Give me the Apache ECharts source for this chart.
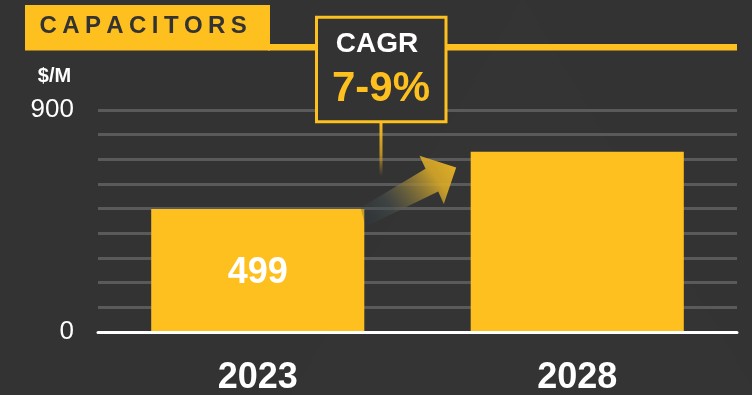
<!DOCTYPE html>
<html>
<head>
<meta charset="utf-8">
<script src="https://cdn.jsdelivr.net/npm/echarts@6/dist/echarts.min.js"></script>
<style>
  html, body { margin: 0; padding: 0; background: #333333; }
  #chart { width: 752px; height: 395px; }
</style>
</head>
<body>
<div id="chart"></div>
<script>
// ---- data ----
const categories = ['2023', '2028'];
const values = [499, 731];
const labelledTicks = [0, 900];
const axisMax = 900;
const axisStep = 100;
const titleText = 'CAPACITORS';
const unitText = '$/M';
const cagrTitle = 'CAGR';
const cagrValue = '7-9%';

// ---- styling ----
const YELLOW = '#FEC01F';
const BG = '#333333';
const GRID = '#5a5a5a';
const FONT = '"Liberation Sans", Arial, Helvetica, sans-serif';

const chart = echarts.init(document.getElementById('chart'), null, { renderer: 'canvas' });

// Letter-spaced heading, laid out one glyph at a time
function spacedText(text, x, y, size, spacing, color) {
  const ctx = document.createElement('canvas').getContext('2d');
  ctx.font = 'bold ' + size + 'px ' + FONT;
  const out = [];
  let cx = x;
  for (const ch of text) {
    out.push({
      type: 'text', z: 20,
      style: {
        x: cx, y: y, text: ch, fill: color,
        fontFamily: FONT, fontWeight: 'bold', fontSize: size,
        align: 'left', verticalAlign: 'middle'
      }
    });
    cx += ctx.measureText(ch).width + spacing;
  }
  return out;
}

const staticGraphics = [
  // faint backdrop triangle
  { type: 'polygon', z: -10, silent: true,
    shape: { points: [[523, -4], [288, 400], [760, 400]] },
    style: { fill: 'rgba(255,255,255,0.009)' } },
  // heading bar and rule
  { type: 'rect', z: 10, shape: { x: 25, y: 5, width: 245, height: 45.5 }, style: { fill: YELLOW } },
  { type: 'rect', z: 10, shape: { x: 268, y: 44, width: 469, height: 6.5 }, style: { fill: YELLOW } },
  // CAGR callout
  { type: 'rect', z: 15, shape: { x: 316.5, y: 17.2, width: 129.5, height: 104.5 },
    style: { fill: BG, stroke: YELLOW, lineWidth: 3 } },
  { type: 'text', z: 16, style: { x: 377, y: 44.5, text: cagrTitle, fill: '#ffffff',
    fontFamily: FONT, fontWeight: 'bold', fontSize: 28, align: 'center', verticalAlign: 'middle' } },
  { type: 'text', z: 16, style: { x: 381, y: 89, text: cagrValue, fill: YELLOW,
    fontFamily: FONT, fontWeight: 'bold', fontSize: 42, align: 'center', verticalAlign: 'middle' } },
  // unit label
  { type: 'text', z: 16, style: { x: 54.5, y: 76, text: unitText, fill: '#ffffff',
    fontFamily: FONT, fontWeight: 'bold', fontSize: 20, align: 'center', verticalAlign: 'middle' } }
].concat(spacedText(titleText, 39.5, 26.5, 24, 5.4, '#333333'));

chart.setOption({
  backgroundColor: BG,
  animation: false,
  grid: { left: 98, right: 15, top: 110, bottom: 63, containLabel: false, outerBoundsMode: 'none' },
  xAxis: {
    type: 'category',
    data: categories,
    axisTick: { show: false },
    axisLine: { show: true, lineStyle: { color: '#ffffff', width: 3 } },
    axisLabel: { color: '#ffffff', fontFamily: FONT, fontWeight: 'bold', fontSize: 36, margin: 28 },
    z: 5
  },
  yAxis: {
    type: 'value',
    min: 0, max: axisMax, interval: axisStep,
    axisLine: { show: false },
    axisTick: { show: false },
    splitLine: { show: true, lineStyle: { color: GRID, width: 3 } },
    axisLabel: {
      color: '#ffffff', fontFamily: FONT, fontSize: 26, margin: 24, padding: [4, 0, 0, 0],
      formatter: v => (labelledTicks.indexOf(v) >= 0 ? String(v) : '')
    }
  },
  series: [{
    type: 'bar',
    data: values.map((v, i) => i === 0
      ? { value: v, label: { show: true } }
      : { value: v }),
    barCategoryGap: '33.3%',
    itemStyle: { color: YELLOW },
    label: {
      show: false, position: 'inside', offset: [0, 3], color: '#ffffff',
      fontFamily: FONT, fontWeight: 'bold', fontSize: 36, formatter: '{c}'
    },
    z: 3
  }],
  graphic: staticGraphics
});

// Growth arrow and callout stem, anchored to the two bar tops
const x0 = chart.convertToPixel({ xAxisIndex: 0 }, categories[0]);
const x1 = chart.convertToPixel({ xAxisIndex: 0 }, categories[1]);
const band = x1 - x0;
const half = band * (1 - 0.333) / 2;
const a = [x0 + half, chart.convertToPixel({ yAxisIndex: 0 }, values[0])]; // right top of first bar
const b = [x1 - half, chart.convertToPixel({ yAxisIndex: 0 }, values[1])]; // left top of second bar
const mid = [(a[0] + b[0]) / 2, (a[1] + b[1]) / 2];

const arrowPts = [
  [-57, 27.5], [8, -11.5], [2, -24.5], [38.7, -12.8], [26.3, 23.8], [20.7, 11.2], [-52, 46.5]
].map(p => [mid[0] + p[0], mid[1] + p[1]]);

chart.setOption({
  graphic: staticGraphics.concat([
    { type: 'polygon', z: 12, silent: true,
      shape: { points: arrowPts },
      style: {
        fill: {
          type: 'linear', x: 0, y: 1, x2: 1, y2: 0,
          colorStops: [
            { offset: 0, color: 'rgba(40,58,72,0.15)' },
            { offset: 0.3, color: 'rgba(70,78,78,0.55)' },
            { offset: 0.75, color: 'rgba(215,168,40,0.9)' },
            { offset: 1, color: 'rgba(240,184,36,0.95)' }
          ]
        }
      } },
    { type: 'rect', z: 12, silent: true,
      shape: { x: 379.5, y: 122, width: 3, height: 54 },
      style: {
        fill: {
          type: 'linear', x: 0, y: 0, x2: 0, y2: 1,
          colorStops: [
            { offset: 0, color: YELLOW },
            { offset: 0.6, color: 'rgba(220,165,30,0.8)' },
            { offset: 1, color: 'rgba(200,150,30,0)' }
          ]
        }
      } }
  ])
});
</script>
</body>
</html>
